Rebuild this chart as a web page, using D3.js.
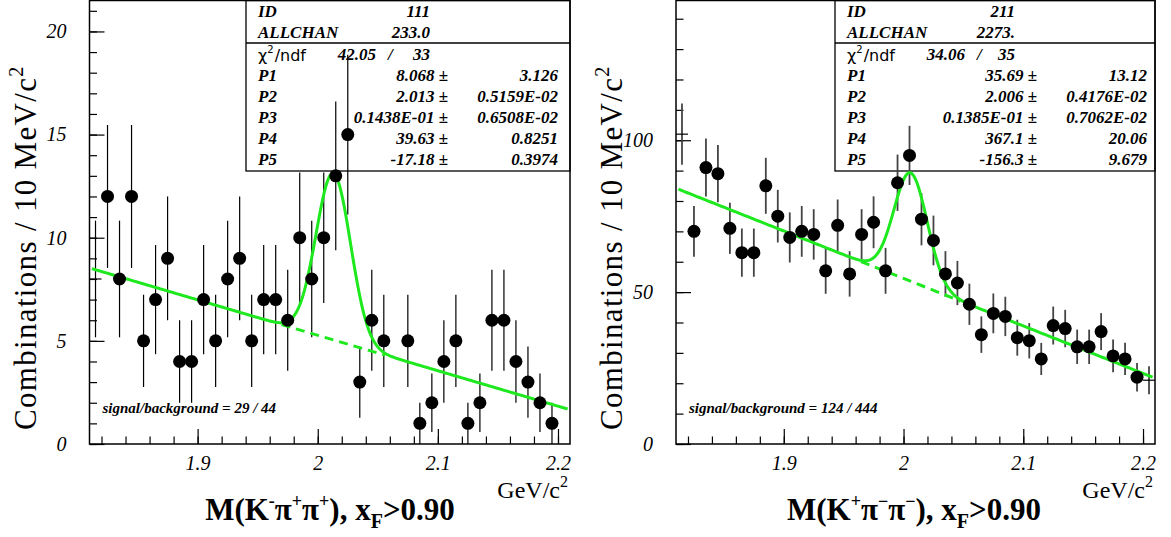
<!DOCTYPE html>
<html>
<head>
<meta charset="utf-8">
<script src="https://cdn.jsdelivr.net/npm/d3@7/dist/d3.min.js"></script>
<style>
body { margin: 0; background: #fff; }
</style>
</head>
<body>
<svg id="chart" width="1171" height="537"></svg>
<script>
// bin centres in GeV/c^2 (10 MeV bins); first and last are the edge bins
var binCenters = [1.815, 1.825, 1.835, 1.845, 1.855, 1.865, 1.875, 1.885, 1.895, 1.905,
                  1.915, 1.925, 1.935, 1.945, 1.955, 1.965, 1.975, 1.985, 1.995, 2.005,
                  2.015, 2.025, 2.035, 2.045, 2.055, 2.065, 2.075, 2.085, 2.095, 2.105,
                  2.115, 2.125, 2.135, 2.145, 2.155, 2.165, 2.175, 2.185, 2.195, 2.205];

var countsLeft = [8, 12, 8, 12, 5, 7, 9, 4, 4, 7,
                  5, 8, 9, 5, 7, 7, 6, 10, 8, 10,
                  13, 15, 3, 6, 5, 0, 5, 1, 2, 4,
                  5, 1, 2, 6, 6, 4, 3, 2, 1, 0];

var countsRight = [102, 70, 91, 89, 71, 63, 63, 85, 75, 68,
                   70, 69, 57, 72, 56, 69, 73, 57, 86, 95,
                   74, 67, 56, 53, 46, 36, 43, 42, 35, 34,
                   28, 39, 38, 32, 32, 37, 29, 28, 22, 21];

// fit parameters P1..P5 : gaussian height, mean, sigma, then linear background
var fitLeft = [8.068, 2.013, 0.01438, 39.63, -17.18];
var fitRight = [35.69, 2.006, 0.01385, 367.1, -156.3];

var paramNames = ["P1", "P2", "P3", "P4", "P5"];
var paramValsLeft = ["8.068", "2.013", "0.1438E-01", "39.63", "-17.18"];
var paramErrsLeft = ["3.126", "0.5159E-02", "0.6508E-02", "0.8251", "0.3974"];
var paramValsRight = ["35.69", "2.006", "0.1385E-01", "367.1", "-156.3"];
var paramErrsRight = ["13.12", "0.4176E-02", "0.7062E-02", "20.06", "9.679"];

var xMajorTicks = [1.9, 2.0, 2.1, 2.2];
var xTickLabels = ["1.9", "2", "2.1", "2.2"];
var yTicksLeft = [0, 5, 10, 15, 20];
var yTicksRight = [0, 50, 100];

var svg = d3.select("#chart");
var green = "#1ee81e";
var serif = "'Liberation Serif', 'Times New Roman', serif";

function fitFn(p, m) {
  return p[0] * Math.exp(-0.5 * Math.pow((m - p[1]) / p[2], 2)) + p[3] + p[4] * m;
}
function bgFn(p, m) {
  return p[3] + p[4] * m;
}

function drawPanel(cfg) {
  var g = svg.append("g").attr("font-family", serif);
  var bottom = 444;
  var x = d3.scaleLinear().domain([1.81, 2.21]).range([cfg.left, cfg.right]);
  var y = d3.scaleLinear().domain([0, cfg.ymax]).range([bottom, 0.5]);

  // stats box (drawn under the data)
  var bx = cfg.boxLeft;
  g.append("rect").attr("x", bx).attr("y", 0.5).attr("width", cfg.right - bx).attr("height", 170.5)
    .attr("fill", "#fff").attr("stroke", "#000").attr("stroke-width", 1.3);
  g.append("line").attr("x1", bx).attr("x2", cfg.right).attr("y1", 43).attr("y2", 43)
    .attr("stroke", "#000").attr("stroke-width", 1.3);

  var bi = function(sel) {
    return sel.attr("font-size", 17).attr("font-weight", "bold").attr("font-style", "italic");
  };
  bi(g.append("text").attr("x", bx + 12).attr("y", 17).text("ID"));
  bi(g.append("text").attr("x", bx + cfg.colA).attr("y", 17).attr("text-anchor", "end").text(cfg.id));
  bi(g.append("text").attr("x", bx + 12).attr("y", 38).text("ALLCHAN"));
  bi(g.append("text").attr("x", bx + cfg.colA).attr("y", 38).attr("text-anchor", "end").text(cfg.allchan));

  var chi = g.append("text").attr("x", bx + 12).attr("y", 61)
    .attr("font-family", "'DejaVu Sans', sans-serif").attr("font-size", 16).attr("fill", "#000");
  chi.append("tspan").text("\u03c7");
  chi.append("tspan").attr("dy", -8).attr("font-size", 10).text("2");
  chi.append("tspan").attr("dy", 8).attr("dx", 1).text("/ndf");
  bi(g.append("text").attr("x", bx + 130).attr("y", 60).attr("text-anchor", "end").text(cfg.chi2));
  bi(g.append("text").attr("x", bx + 142).attr("y", 60).attr("font-weight", "normal").text("/"));
  bi(g.append("text").attr("x", bx + cfg.colA).attr("y", 60).attr("text-anchor", "end").text(cfg.ndf));

  paramNames.forEach(function(nm, i) {
    var yy = 81 + i * 21;
    bi(g.append("text").attr("x", bx + 12).attr("y", yy).text(nm));
    bi(g.append("text").attr("x", bx + 202).attr("y", yy).attr("text-anchor", "end").text(cfg.vals[i] + " \u00b1"));
    bi(g.append("text").attr("x", bx + 312).attr("y", yy).attr("text-anchor", "end").text(cfg.errs[i]));
  });

  // frame
  g.append("rect").attr("x", cfg.left).attr("y", 0.5).attr("width", cfg.right - cfg.left)
    .attr("height", bottom - 0.5).attr("fill", "none").attr("stroke", "#000").attr("stroke-width", 1.5);

  // x axis ticks (inward)
  var xMinor = g.append("g").attr("transform", "translate(0," + bottom + ")")
    .call(d3.axisBottom(x).tickValues(d3.range(1.82, 2.205, 0.02)).tickSize(-7.5).tickFormat(""));
  var xMaj = g.append("g").attr("transform", "translate(0," + bottom + ")")
    .call(d3.axisBottom(x).tickValues(xMajorTicks).tickSize(-15).tickPadding(12)
      .tickFormat(function(d, i) { return xTickLabels[i]; }));
  // y axis ticks (inward)
  var yMinor = g.append("g").attr("transform", "translate(" + cfg.left + ",0)")
    .call(d3.axisLeft(y).tickValues(d3.range(0, cfg.ymax, cfg.yMinorStep)).tickSize(-7.5).tickFormat(""));
  var yMaj = g.append("g").attr("transform", "translate(" + cfg.left + ",0)")
    .call(d3.axisLeft(y).tickValues(cfg.yTicks).tickSize(-15).tickPadding(23));
  [xMinor, xMaj, yMinor, yMaj].forEach(function(a) {
    a.select(".domain").remove();
    a.attr("font-family", serif).attr("font-size", 20);
    a.selectAll(".tick line").attr("stroke", "#000").attr("stroke-width", 1.2);
    a.selectAll("text").attr("font-style", "italic").attr("fill", "#000");
  });

  // data: error bars and dots
  var pts = binCenters.map(function(m, i) { return { m: m, n: cfg.counts[i], edge: i === 0 || i === binCenters.length - 1 }; })
    .filter(function(d) { return d.n > 0; });
  g.selectAll(".err").data(pts).enter().append("line")
    .attr("x1", function(d) { return x(d.m); }).attr("x2", function(d) { return x(d.m); })
    .attr("y1", function(d) { return y(d.n - Math.sqrt(d.n)); })
    .attr("y2", function(d) { return y(d.n + Math.sqrt(d.n)); })
    .attr("stroke", cfg.errColor).attr("stroke-width", cfg.errWidth);
  g.selectAll(".hbar").data(pts.filter(function(d) { return d.edge; })).enter().append("line")
    .attr("x1", function(d) { return x(d.m - 0.005); }).attr("x2", function(d) { return x(d.m + 0.005); })
    .attr("y1", function(d) { return y(d.n); }).attr("y2", function(d) { return y(d.n); })
    .attr("stroke", "#000").attr("stroke-width", 1.2);

  // fit curve and background
  var line = d3.line().x(function(d) { return x(d[0]); }).y(function(d) { return y(d[1]); });
  var full = d3.range(1.812, 2.2081, 0.001).map(function(m) { return [m, fitFn(cfg.fit, m)]; });
  var lo = cfg.fit[1] - 3 * cfg.fit[2], hi = cfg.fit[1] + 3 * cfg.fit[2];
  var bg = [[lo, bgFn(cfg.fit, lo)], [hi, bgFn(cfg.fit, hi)]];
  g.append("path").attr("d", line(bg)).attr("fill", "none").attr("stroke", green)
    .attr("stroke-width", 3).attr("stroke-dasharray", "9,6");
  g.append("path").attr("d", line(full)).attr("fill", "none").attr("stroke", green)
    .attr("stroke-width", 3).attr("stroke-linejoin", "round");

  g.selectAll(".dot").data(pts.filter(function(d) { return !d.edge; })).enter().append("circle")
    .attr("cx", function(d) { return x(d.m); }).attr("cy", function(d) { return y(d.n); })
    .attr("r", 6.5).attr("fill", "#000");

  // texts
  g.append("text").attr("x", cfg.left + 13).attr("y", 413).attr("font-size", 15)
    .attr("font-weight", "bold").attr("font-style", "italic").text(cfg.sb);

  var yt = g.append("text").attr("transform", "translate(" + (cfg.left - 54) + ",430) rotate(-90)")
    .attr("font-size", 31);
  yt.append("tspan").attr("textLength", 352).attr("lengthAdjust", "spacing").text("Combinations / 10 MeV/c");
  yt.append("tspan").attr("dy", -13).attr("font-size", 20).text("2");

  var un = g.append("text").attr("x", cfg.right - 2).attr("y", 498).attr("text-anchor", "end").attr("font-size", 24);
  un.append("tspan").text("GeV/c");
  un.append("tspan").attr("dy", -11).attr("font-size", 16).text("2");

  var tt = g.append("text").attr("x", cfg.titleX).attr("y", 520).attr("text-anchor", "middle")
    .attr("font-size", 31).attr("font-weight", "bold");
  tt.append("tspan").text("M(K");
  tt.append("tspan").attr("dy", -13).attr("font-size", 18).text(cfg.c1);
  tt.append("tspan").attr("dy", 13).text("\u03c0");
  tt.append("tspan").attr("dy", -13).attr("font-size", 18).text(cfg.c2);
  tt.append("tspan").attr("dy", 13).text("\u03c0");
  tt.append("tspan").attr("dy", -13).attr("font-size", 18).text(cfg.c2);
  tt.append("tspan").attr("dy", 13).text("), x");
  tt.append("tspan").attr("dy", 8).attr("font-size", 20).text("F");
  tt.append("tspan").attr("dy", -8).text(">0.90");
}

drawPanel({
  left: 89.5, right: 570, ymax: 21.5, yTicks: yTicksLeft, yMinorStep: 1,
  boxLeft: 246, colA: 184, id: "111", allchan: "233.0", chi2: "42.05", ndf: "33",
  vals: paramValsLeft, errs: paramErrsLeft, counts: countsLeft, fit: fitLeft,
  errColor: "#000", errWidth: 1.2, sb: "signal/background = 29 / 44",
  titleX: 330, c1: "-", c2: "+"
});

drawPanel({
  left: 676, right: 1155, ymax: 146, yTicks: yTicksRight, yMinorStep: 10,
  boxLeft: 835, colA: 180, id: "211", allchan: "2273.", chi2: "34.06", ndf: "35",
  vals: paramValsRight, errs: paramErrsRight, counts: countsRight, fit: fitRight,
  errColor: "#444", errWidth: 1.8, sb: "signal/background = 124 / 444",
  titleX: 914, c1: "+", c2: "\u2212"
});
</script>
</body>
</html>
